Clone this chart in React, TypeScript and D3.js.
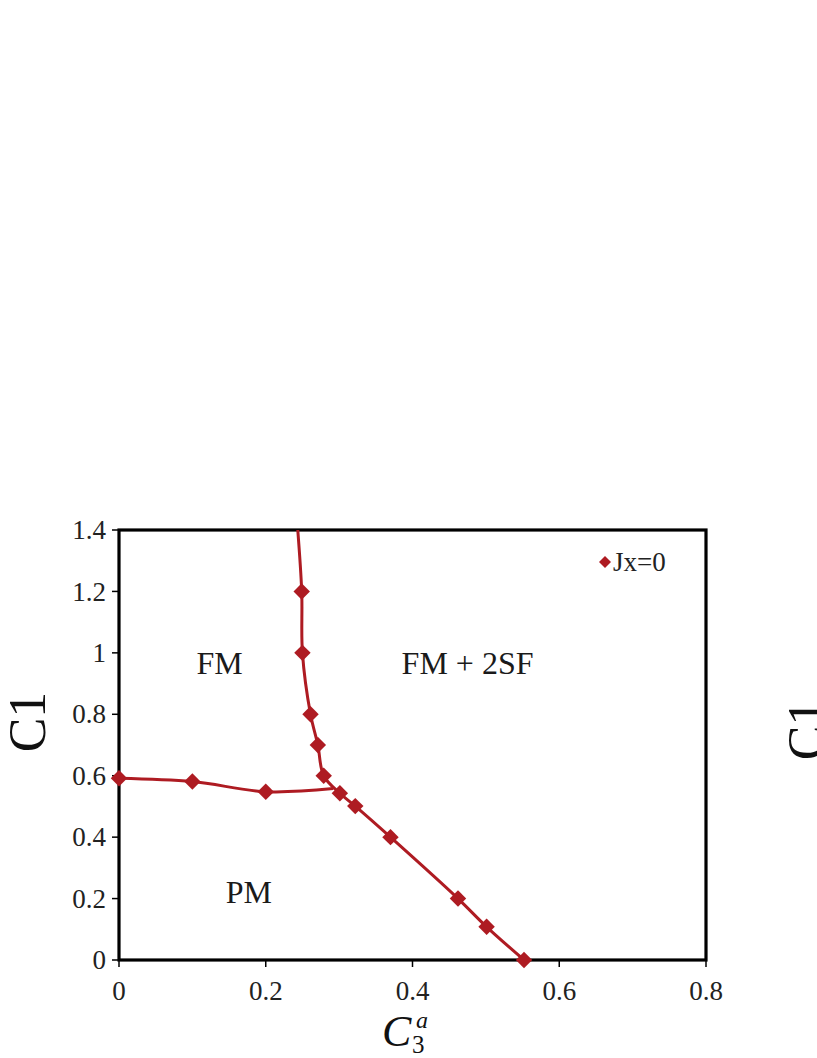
import React from "react";
import * as d3 from "d3";

// ---- data ----
const xTicks = [0, 0.2, 0.4, 0.6, 0.8];
const yTicks = [0, 0.2, 0.4, 0.6, 0.8, 1, 1.2, 1.4];

// branch A: vertical + diagonal boundary
const branchAX = [0.243, 0.249, 0.25, 0.261, 0.271, 0.279, 0.301, 0.322, 0.37, 0.462, 0.501, 0.552];
const branchAY = [1.42, 1.2, 1.0, 0.8, 0.7, 0.6, 0.543, 0.501, 0.4, 0.2, 0.108, 0];
const branchAMarked = [false, true, true, true, true, true, true, true, true, true, true, true];

// branch B: horizontal boundary
const branchBX = [0, 0.1, 0.2, 0.292];
const branchBY = [0.592, 0.581, 0.548, 0.558];
const branchBMarked = [true, true, true, false];

const regionLabels = ["FM", "FM + 2SF", "PM"];
const regionX = [0.137, 0.475, 0.177];
const regionY = [0.93, 0.93, 0.185];

const legendLabel = "Jx=0";

const RED = "#AE1B22";
const FONT = "'Liberation Serif', 'Times New Roman', serif";

export default function App() {
  const W = 817, H = 1058;
  const left = 119, right = 706, top = 530, bottom = 960;
  const x = d3.scaleLinear().domain([0, 0.8]).range([left, right]);
  const y = d3.scaleLinear().domain([0, 1.4]).range([bottom, top]);

  const line = d3
    .line<[number, number]>()
    .x((d) => x(d[0]))
    .y((d) => y(d[1]))
    .curve(d3.curveCatmullRom.alpha(0.5));

  const ptsA: [number, number][] = branchAX.map((v, i) => [v, branchAY[i]]);
  const ptsB: [number, number][] = branchBX.map((v, i) => [v, branchBY[i]]);
  const diamond = d3.symbol().type(d3.symbolSquare).size(135)() as string;
  const legendDiamond = d3.symbol().type(d3.symbolSquare).size(72)() as string;

  const fmt = (v: number) => (v === 0 ? "0" : d3.format("")(+v.toFixed(1)));

  const markers: [number, number][] = [
    ...ptsA.filter((_, i) => branchAMarked[i]),
    ...ptsB.filter((_, i) => branchBMarked[i]),
  ];

  return (
    <svg
      width={W}
      height={H}
      style={{ position: "absolute", left: 0, top: 0, background: "#fff" }}
      fontFamily={FONT}
    >
      <defs>
        <clipPath id="plotclip">
          <rect x={left} y={top} width={right - left} height={bottom - top} />
        </clipPath>
      </defs>
      <rect x={0} y={0} width={W} height={H} fill="#fff" />

      {/* ticks */}
      {yTicks.map((t) => (
        <g key={"y" + t}>
          <line x1={left - 7} x2={left} y1={y(t)} y2={y(t)} stroke="#000" strokeWidth={1.5} />
          <text
            x={106}
            y={y(t)}
            dy="0.34em"
            textAnchor="end"
            fontSize={27}
            fill="#222"
          >
            {fmt(t)}
          </text>
        </g>
      ))}
      {xTicks.map((t) => (
        <g key={"x" + t}>
          <line x1={x(t)} x2={x(t)} y1={bottom} y2={bottom + 7} stroke="#000" strokeWidth={1.5} />
          <text x={x(t)} y={1000} textAnchor="middle" fontSize={27} fill="#222">
            {fmt(t)}
          </text>
        </g>
      ))}

      {/* frame */}
      <rect
        x={left}
        y={top}
        width={right - left}
        height={bottom - top}
        fill="none"
        stroke="#000"
        strokeWidth={3.2}
      />

      {/* lines */}
      <g clipPath="url(#plotclip)">
        <path d={line(ptsA) || ""} fill="none" stroke={RED} strokeWidth={3} />
        <path d={line(ptsB) || ""} fill="none" stroke={RED} strokeWidth={3} />
      </g>
      {markers.map((p, i) => (
        <path
          key={"m" + i}
          d={diamond}
          transform={`translate(${x(p[0])},${y(p[1])}) rotate(45)`}
          fill={RED}
        />
      ))}

      {/* region labels */}
      {regionLabels.map((s, i) => (
        <text
          key={s}
          x={x(regionX[i])}
          y={y(regionY[i])}
          textAnchor="middle"
          fontSize={32}
          fill="#1a1a1a"
        >
          {s}
        </text>
      ))}

      {/* legend */}
      <path d={legendDiamond} transform={`translate(605,562) rotate(45)`} fill={RED} />
      <text x={613} y={571} fontSize={27} fill="#222">
        {legendLabel}
      </text>

      {/* axis titles */}
      <text
        transform="translate(45,722) rotate(-90)"
        textAnchor="middle"
        fontSize={52}
        fill="#111"
      >
        C1
      </text>
      <text x={382} y={1046} fontSize={44} fontStyle="italic" fill="#111">
        C
      </text>
      <text x={416} y={1028} fontSize={24} fontStyle="italic" fill="#111">
        a
      </text>
      <text x={412} y={1053} fontSize={25} fill="#111">
        3
      </text>

      {/* neighbouring panel's axis title, cut by the edge */}
      <text
        transform="translate(824,730) rotate(-90)"
        textAnchor="middle"
        fontSize={52}
        fill="#111"
      >
        C1
      </text>
    </svg>
  );
}
